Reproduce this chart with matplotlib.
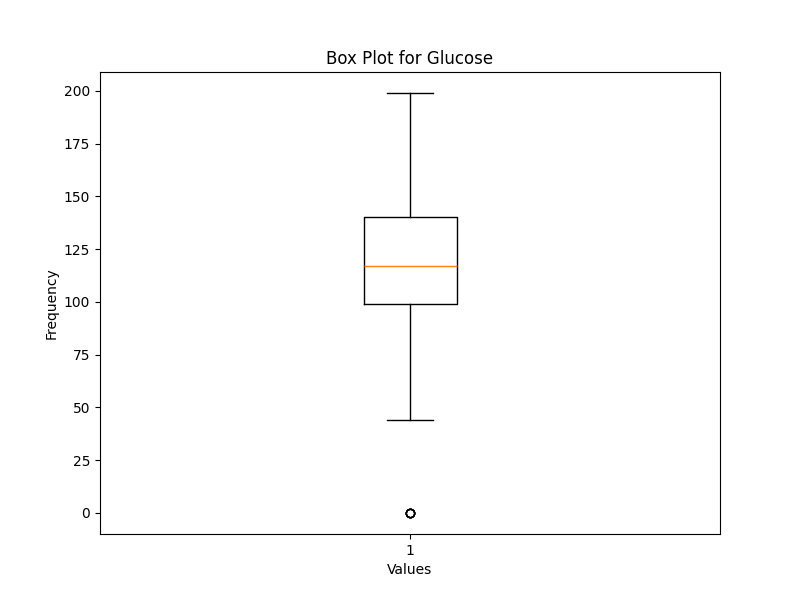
import matplotlib
matplotlib.use('Agg')
import matplotlib.pyplot as plt

# summary stats of the Glucose column
q1 = 99.0
median = 117.0
q3 = 140.25
whisker_low = 44.0
whisker_high = 199.0
outliers = [0, 0, 0, 0, 0]

stats = [{'med': median, 'q1': q1, 'q3': q3,
          'whislo': whisker_low, 'whishi': whisker_high,
          'fliers': outliers, 'label': '1'}]

fig, ax = plt.subplots(figsize=(8, 6), dpi=100)
ax.bxp(stats)
ax.set_title('Box Plot for Glucose')
ax.set_xlabel('Values')
ax.set_ylabel('Frequency')

plt.savefig('out.png')
